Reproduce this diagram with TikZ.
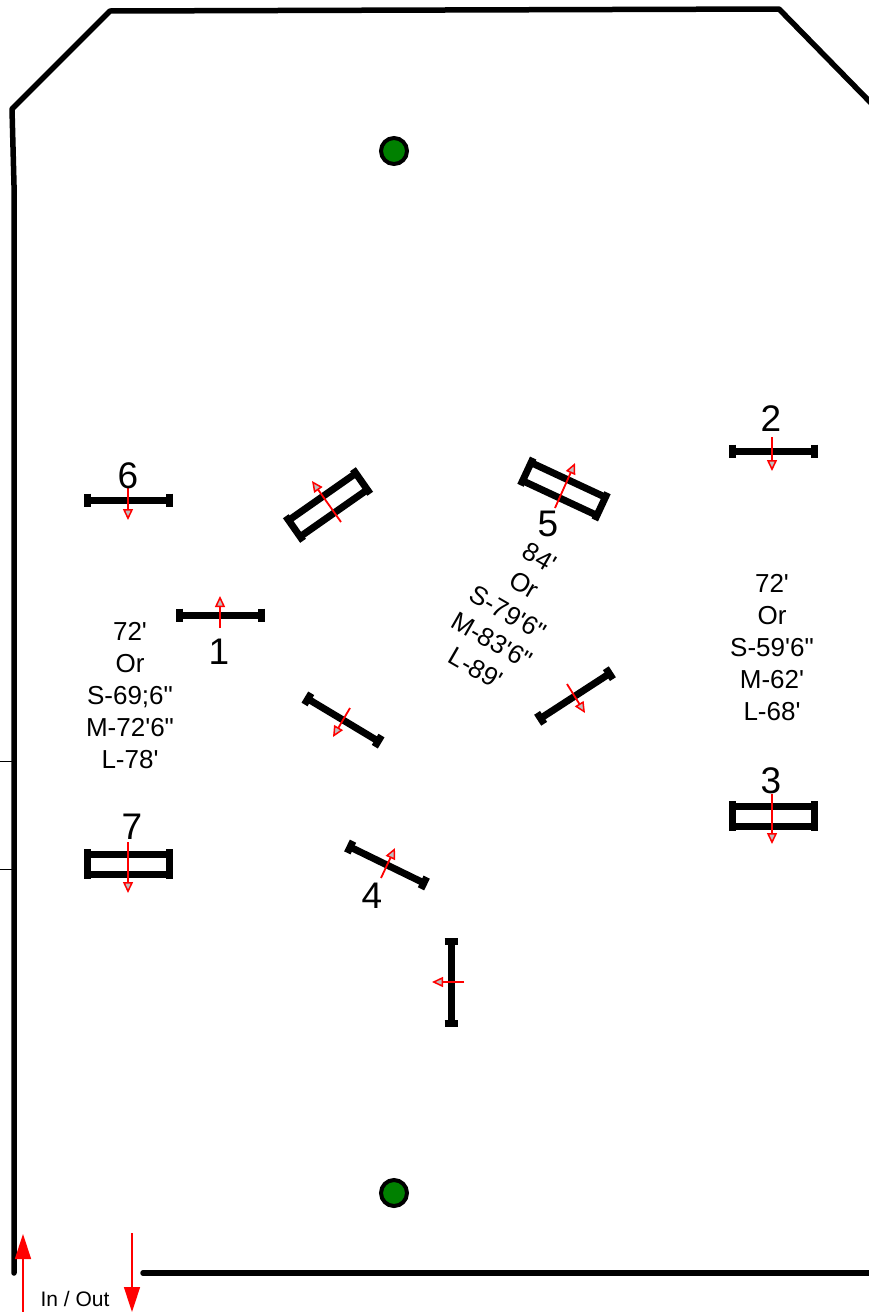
\documentclass[tikz,border=0pt]{standalone}
\usepackage{fontspec}
\setmainfont{Liberation Sans}[Ligatures=TeXOff]
\usetikzlibrary{arrows.meta}

\begin{document}
\begin{tikzpicture}[
    x=1pt, y=-1pt,
    wall/.style={line width=5.5pt, line cap=round, line join=round},
    bar/.style={line width=7pt},
    pull/.style={red, line width=1.8pt, -{Triangle[length=11pt, width=10pt, fill=gray!50, line width=1.5pt]}},
    flow/.style={red, line width=1.5pt, -{Triangle[length=25pt, width=16pt, fill=red]}},
    pole/.style={circle, draw, line width=4pt, fill=green!50!black, minimum size=26pt, inner sep=0pt},
    number/.style={font=\fontsize{37}{37}\selectfont, inner sep=0pt},
    lengths/.style={font=\fontsize{26}{32}\selectfont, align=center, inner sep=0pt}
]
\useasboundingbox (0,0) rectangle (868,1312);

% Walls
\draw[wall] (14,1273) -- (14,185) -- (12,109) -- (110,11) -- (779,9) -- (872,104);
\draw[wall] (143,1273) -- (872,1273);
\draw[line width=1pt] (0,761) -- (14,761);
\draw[line width=1pt] (0,869) -- (14,869);

% Poles
\node[pole] (pole top) at (394,151) {};
\node[pole] (pole bottom) at (394,1193) {};

% Single jumps
\foreach \x/\y/\ang/\ax/\ay/\bx/\by in {
    220/615/0/220/628/220/596,
    773/451/0/772/437/772/471,
    128/500/0/128/488/128/520,
    387/865/-26/381/878/395/848,
    343/720/-31/350/708/333/737,
    575/696/33/567/684/585/713,
    451/982/90/464/982/432/982} {
    \begin{scope}[shift={(\x,\y)}, rotate=\ang]
        \draw[bar] (-41,0) -- (41,0);
        \draw[bar] (-41,-6.5) -- (-41,6.5);
        \draw[bar] (41,-6.5) -- (41,6.5);
    \end{scope}
    \draw[pull] (\ax,\ay) -- (\bx,\by);
}

% Double jumps
\foreach \x/\y/\ang/\ax/\ay/\bx/\by in {
    128/864/0/128/842/128/893,
    773/816/0/772/794/772/844,
    564/489/-25/555/508/575/463,
    328/505/35/341/522/312/481} {
    \begin{scope}[shift={(\x,\y)}, rotate=\ang]
        \draw[bar] (-41,-10) -- (41,-10);
        \draw[bar] (-41,10) -- (41,10);
        \draw[bar] (-41,-15) -- (-41,15);
        \draw[bar] (41,-15) -- (41,15);
    \end{scope}
    \draw[pull] (\ax,\ay) -- (\bx,\by);
}

% Numbers
\node[number] (num1) at (219,652) {1};
\node[number] (num2) at (771,419) {2};
\node[number] (num3) at (771,781) {3};
\node[number] (num4) at (372,896) {4};
\node[number] (num5) at (548,524) {5};
\node[number] (num6) at (128,476) {6};
\node[number] (num7) at (132,827) {7};

% Lengths
\node[lengths] (left text) at (130,696) {72'\\Or\\S-69;6"\\M-72'6"\\L-78'};
\node[lengths] (right text) at (772,648) {72'\\Or\\S-59'6"\\M-62'\\L-68'};
\node[lengths, rotate=-30] (mid text) at (508,613) {84'\\Or\\S-79'6"\\M-83'6"\\L-89'};

% In and out
\draw[flow] (23,1312) -- (23,1234);
\draw[flow] (132,1233) -- (132,1312);
\node[font=\fontsize{21}{21}\selectfont, inner sep=0pt] (in out) at (75,1299) {In / Out};

\end{tikzpicture}
\end{document}
